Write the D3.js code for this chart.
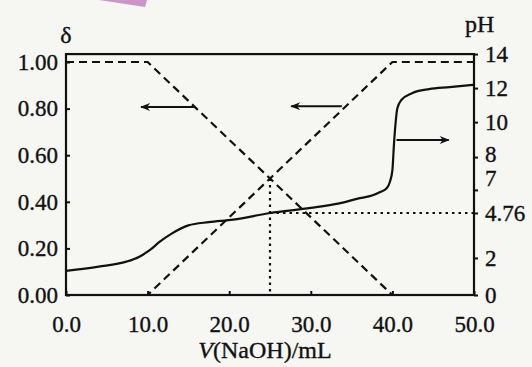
<!DOCTYPE html>
<html>
<head>
<meta charset="utf-8">
<script src="https://cdn.jsdelivr.net/npm/d3@7"></script>
<style>
  body { margin: 0; background: #f6f6f3; }
  svg, .axis { font-family: "Liberation Serif", "Times New Roman", serif; }
  svg { display: block; }
  svg text { fill: #111; stroke: #111; stroke-width: 0.35; }
  .axis text { font-size: 23px; }
  .axis line { stroke: #111; stroke-width: 2; }
</style>
</head>
<body>
<div id="chart"></div>
<script>
var width = 532, height = 367;

// titration curve (pH vs added NaOH)
const volume = [0, 4, 7.4, 9, 10.3, 11.5, 13, 15, 17.5, 20.5, 25, 30, 33.5, 36, 37.5, 38.5, 39.3, 39.7, 40.0, 40.2, 40.4, 40.6, 41.1, 42.4, 44.5, 47, 50];
const pH = [1.30, 1.53, 1.80, 2.08, 2.49, 3.0, 3.51, 4.0, 4.2, 4.35, 4.76, 5.25, 5.7, 6.2, 6.45, 6.8, 7.05, 7.25, 7.6, 8.8, 10.0, 10.8, 11.3, 11.7, 11.94, 12.06, 12.2];

// distribution fractions (dashed)
const deltaVolume = [0, 10, 40, 50];
const deltaHAc = [1, 1, 0, 0];
const deltaAc = [0, 0, 1, 1];

// half-equivalence marker
const halfVolume = 25;
const halfPH = 4.76;
const halfDelta = 0.5;

// axis ticks
const volumeTicks = [0, 10, 20, 30, 40, 50];
const deltaTicks = [0, 0.2, 0.4, 0.6, 0.8, 1.0];
const phTicks = [0, 2, 4.76, 7, 8, 10, 12, 14];

// arrows: [start volume, end volume, delta level]
const arrowStart = [15.7, 33.8, 40.5];
const arrowEnd = [9.2, 27.6, 46.9];
const arrowLevel = [0.807, 0.81, 0.665];

var svg = d3.select("#chart")
  .append("svg")
  .attr("width", width)
  .attr("height", height);

// scan artifact at the top
svg.append("polygon")
  .attr("points", "99,0 147,0 145,7")
  .attr("fill", "#cf93cc");

let x = d3.scaleLinear().domain([0, 50]).range([66, 474]);
let y = d3.scaleLinear().domain([0, 1]).range([295, 62]);
// the pH axis in the source is not uniform, so map each tick onto the delta scale
let yPH = d3.scaleLinear()
  .domain(phTicks)
  .range([0, 0.159, 0.352, 0.451, 0.592, 0.742, 0.888, 1.034].map(y));

// frame
svg.append("rect")
  .attr("x", x(0))
  .attr("y", yPH(14))
  .attr("width", x(50) - x(0))
  .attr("height", y(0) - yPH(14))
  .attr("fill", "none")
  .attr("stroke", "#111")
  .attr("stroke-width", 2.2);

// axes
let xAxis = svg.append("g")
  .attr("class", "axis")
  .attr("transform", `translate(0, ${y(0)})`)
  .call(d3.axisBottom(x).tickValues(volumeTicks).tickSizeInner(-4).tickSizeOuter(0).tickFormat(d3.format(".1f")));
xAxis.select(".domain").remove();
xAxis.selectAll("text").attr("y", 37).attr("dy", null);

let yAxis = svg.append("g")
  .attr("class", "axis")
  .attr("transform", `translate(${x(0)}, 0)`)
  .call(d3.axisLeft(y).tickValues(deltaTicks).tickSizeInner(-4).tickSizeOuter(0).tickPadding(8).tickFormat(d3.format(".2f")));
yAxis.select(".domain").remove();

let phAxis = svg.append("g")
  .attr("class", "axis")
  .attr("transform", `translate(${x(50)}, 0)`)
  .call(d3.axisRight(yPH).tickValues(phTicks).tickSizeInner(4).tickSizeOuter(0).tickPadding(7).tickFormat(d => d));
phAxis.select(".domain").remove();
phAxis.selectAll("text").filter(d => d == 8).attr("dy", "0.19em");
phAxis.selectAll("text").filter(d => d == 7).attr("dy", "-0.18em");

// dashed fraction lines
let deltaLine = d3.line()
  .x((d, i) => x(deltaVolume[i]))
  .y(d => y(d));

[deltaHAc, deltaAc].forEach(series => {
  svg.append("path")
    .datum(series)
    .attr("d", deltaLine)
    .attr("fill", "none")
    .attr("stroke", "#111")
    .attr("stroke-width", 2.2)
    .attr("stroke-dasharray", "8,5");
});

// dotted guides
svg.append("line")
  .attr("x1", x(halfVolume)).attr("x2", x(halfVolume))
  .attr("y1", y(halfDelta)).attr("y2", y(0))
  .attr("stroke", "#111").attr("stroke-width", 2.2)
  .attr("stroke-dasharray", "2.5,4");

svg.append("line")
  .attr("x1", x(halfVolume)).attr("x2", x(50))
  .attr("y1", yPH(halfPH)).attr("y2", yPH(halfPH))
  .attr("stroke", "#111").attr("stroke-width", 2.2)
  .attr("stroke-dasharray", "2.5,4");

// pH curve
let phLine = d3.line()
  .x((d, i) => x(volume[i]))
  .y(d => yPH(d))
  .curve(d3.curveMonotoneX);

svg.append("path")
  .datum(pH)
  .attr("d", phLine)
  .attr("fill", "none")
  .attr("stroke", "#111")
  .attr("stroke-width", 2.2);

// arrows
svg.append("defs").append("marker")
  .attr("id", "head")
  .attr("viewBox", "0 0 10 8")
  .attr("refX", 9)
  .attr("refY", 4)
  .attr("markerWidth", 12)
  .attr("markerHeight", 8)
  .attr("markerUnits", "userSpaceOnUse")
  .attr("orient", "auto")
  .append("path")
  .attr("d", "M0,0 L10,4 L0,8 L3,4 Z")
  .attr("fill", "#111");

svg.selectAll("line.arrow")
  .data(arrowLevel)
  .enter()
  .append("line")
  .attr("class", "arrow")
  .attr("x1", (d, i) => x(arrowStart[i]))
  .attr("x2", (d, i) => x(arrowEnd[i]))
  .attr("y1", d => y(d))
  .attr("y2", d => y(d))
  .attr("stroke", "#111")
  .attr("stroke-width", 2)
  .attr("marker-end", "url(#head)");

// titles
svg.append("text")
  .attr("x", x(0))
  .attr("y", 43)
  .attr("text-anchor", "middle")
  .style("font-size", "24px")
  .text("δ");

svg.append("text")
  .attr("x", 465)
  .attr("y", 32)
  .style("font-size", "24px")
  .text("pH");

let xTitle = svg.append("text")
  .attr("x", 265)
  .attr("y", 358)
  .attr("text-anchor", "middle")
  .style("font-size", "24px");
xTitle.append("tspan").style("font-style", "italic").text("V");
xTitle.append("tspan").text("(NaOH)/mL");
</script>
</body>
</html>
